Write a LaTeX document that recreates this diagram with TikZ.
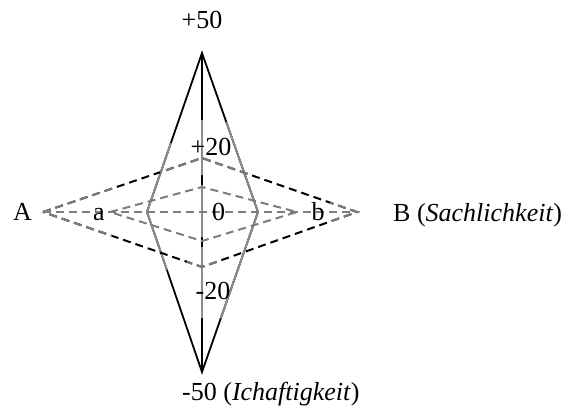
\documentclass[tikz,border=0pt]{standalone}
\usepackage{fontspec}
\setmainfont{Liberation Serif}
\definecolor{fadegray}{RGB}{125,125,125}
\definecolor{solidgray}{RGB}{140,140,140}
\tikzset{
  lbl/.style={inner sep=0pt, font=\fontsize{26}{30}\selectfont},
  solidline/.style={line width=1.8pt, line join=miter},
  dashline/.style={line width=2pt, dash pattern=on 8pt off 5pt},
}
\begin{document}
\begin{tikzpicture}[x=1pt,y=-1pt]
\path[use as bounding box] (0,0) rectangle (566,416);
% points
\coordinate (T) at (202,53);
\coordinate (Bt) at (202,372);
\coordinate (L) at (147,212);
\coordinate (R) at (258,212);
\coordinate (A0) at (43,212);
\coordinate (B0) at (357,212);
\coordinate (OT) at (202,158);
\coordinate (OB) at (202,267);
\coordinate (IL) at (110,212);
\coordinate (IR) at (297,212);
\coordinate (IT) at (202,187);
\coordinate (IB) at (202,241);
% solid star and axis (black)
\draw[solidline] (T) -- (L) -- (Bt) -- (R) -- cycle;
\draw[solidline] (T) -- (Bt);
% faded gray parts of the solid lines
\begin{scope}
\clip (0,143) rectangle (199,270)
      (205,122) rectangle (300,318)
      (199,120) rectangle (205,175)
      (199,185) rectangle (205,237)
      (199,247) rectangle (205,318);
\draw[solidline, solidgray] (T) -- (L) -- (Bt) -- (R) -- cycle;
\draw[solidline, solidgray] (T) -- (Bt);
\end{scope}
% outer dashed diamond
\draw[dashline] (A0) -- (OT) -- (B0) -- (OB) -- cycle;
\begin{scope}
\clip (0,0) rectangle (112,416)
      (330,0) rectangle (566,416)
      (160,0) rectangle (247,200)
      (187,230) rectangle (217,416);
\draw[dashline, fadegray] (A0) -- (OT) -- (B0) -- (OB) -- cycle;
\end{scope}
% inner dashed diamond and horizontal line
\draw[dashline, fadegray] (IL) -- (IT) -- (IR) -- (IB) -- cycle;
\draw[dashline, fadegray] (A0) -- (B0);
% labels
\node[lbl, anchor=base] (p50) at (202,28) {+50};
\node[lbl, anchor=base west] (m50) at (182,400) {-50 (\textit{Ichaftigkeit})};
\node[lbl, anchor=base] (lA) at (22.5,220) {A};
\node[lbl, anchor=base west] (lB) at (393,221) {B (\textit{Sachlichkeit})};
\node[lbl, anchor=base] (la) at (99,220) {a};
\node[lbl, anchor=base] (lb) at (318,220) {b};
\node[lbl, anchor=base] (l0) at (218.5,220) {0};
\node[lbl, anchor=base] (p20) at (211,155) {+20};
\node[lbl, anchor=base] (m20) at (213,299) {-20};
\end{tikzpicture}
\end{document}
